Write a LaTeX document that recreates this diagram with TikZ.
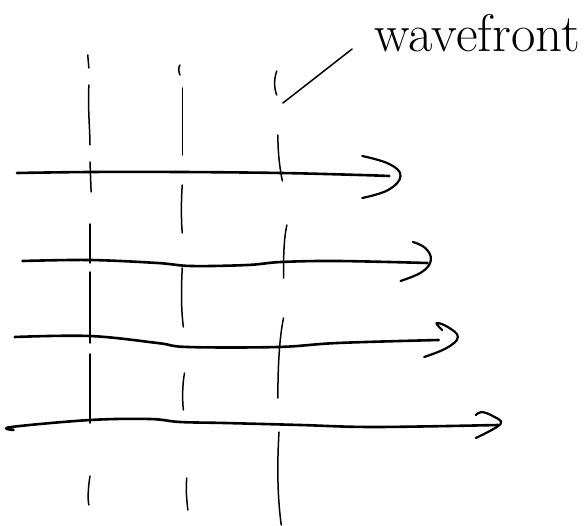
\documentclass[tikz,border=0pt]{standalone}
\begin{document}
\begin{tikzpicture}[x=1.125pt,y=-1pt,
  ray/.style={line width=2.6pt,line cap=round,line join=round},
  head/.style={line width=2.2pt,line cap=round,line join=round},
  wf/.style={line width=1.5pt,line cap=round},
  lead/.style={line width=1.5pt,line cap=round}]
\useasboundingbox (0,0) rectangle (522.667,526);
% rays
\draw[ray] plot[smooth,tension=0.6] coordinates {(15,173) (80,172) (160,172) (250,173) (320,175) (346,176)};
\draw[head] plot[smooth,tension=0.7] coordinates {(322,156) (346,164) (356,176) (345,190) (322,198)};
\draw[ray] plot[smooth,tension=0.6] coordinates {(20,261) (80,260) (140,263) (170,266) (220,265) (250,262) (300,261) (380,263)};
\draw[head] plot[smooth,tension=0.7] coordinates {(367,242) (378,248) (383,260) (375,272) (356,281)};
\draw[ray] plot[smooth,tension=0.6] coordinates {(13,337) (80,336) (140,343) (167,347) (247,347) (300,343) (390,340)};
\draw[head] plot[smooth,tension=0.7] coordinates {(393,330) (388,323) (398,327) (407,337) (397,348) (377,357)};
\draw[ray] plot[smooth,tension=0.6] coordinates {(12,430) (10,427) (80,420) (133,419) (160,422) (200,423) (267,425) (333,427) (443,425)};
\draw[head] plot[smooth,tension=0.6] coordinates {(423,415) (428,412) (438,416) (445,424) (423,438)};
% wavefront 1
\draw[wf] (78,55) -- (79,68);
\draw[wf] (79,85) .. controls (78,110) and (80,130) .. (80,145);
\draw[wf] (80,162) -- (81,192);
\draw[wf] (80,224) -- (80,263);
\draw[wf] (80,272) -- (80,343);
\draw[wf] (80,354) -- (80,423);
\draw[wf] (80,476) .. controls (78,490) and (78,500) .. (79,505);
% wavefront 2
\draw[wf] (160,65) .. controls (158,68) and (159,72) .. (160,75);
\draw[wf] (162,88) -- (162,155);
\draw[wf] (162,185) .. controls (161,200) and (161,220) .. (162,233);
\draw[wf] (162,268) .. controls (161,290) and (161,310) .. (163,327);
\draw[wf] (164,373) .. controls (162,385) and (162,400) .. (163,410);
\draw[wf] (166,478) .. controls (165,490) and (166,500) .. (167,510);
% wavefront 3
\draw[wf] (246,71) .. controls (243,80) and (244,90) .. (246,95);
\draw[wf] (247,135) .. controls (247,155) and (249,170) .. (251,181);
\draw[wf] (255,225) .. controls (252,240) and (252,260) .. (252,278);
\draw[wf] (252,318) .. controls (248,340) and (247,370) .. (247,398);
\draw[wf] (248,432) .. controls (246,470) and (247,500) .. (250,525);
% label
\node[font=\fontsize{53}{53}\selectfont,anchor=base west,inner sep=0pt] (lbl) at (333,52) {wavefront};
\coordinate (wft) at (251.5,103);
\draw[lead] (wft) -- (313,49);
\end{tikzpicture}
\end{document}
